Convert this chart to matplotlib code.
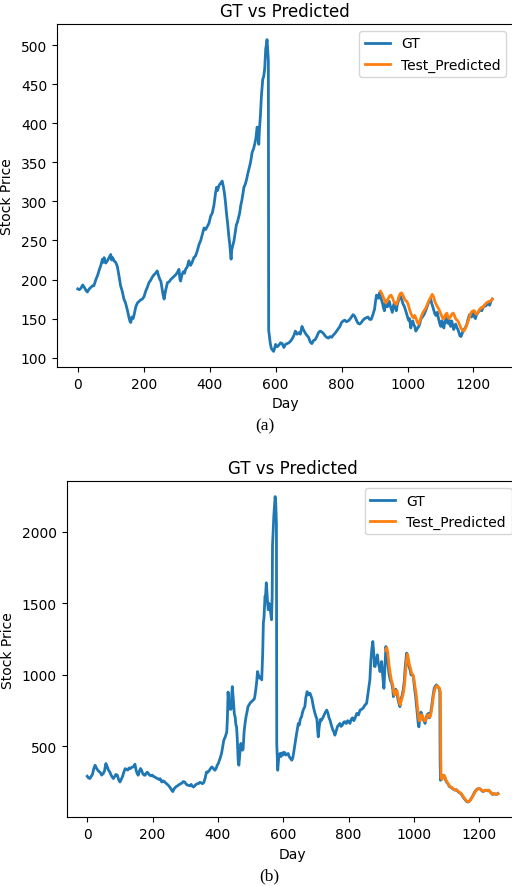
import matplotlib
matplotlib.use("Agg")
import matplotlib.pyplot as plt

# ---------------- Panel (a) ----------------
days_a = [0, 5, 10, 15, 20, 25, 29, 35, 40, 45, 49, 55, 60, 65, 70, 75, 78, 80, 85, 90,
          95, 100, 103, 106, 110, 115, 120, 125, 130, 135, 140, 145, 151, 155, 158, 161, 164, 168, 171, 176,
          181, 186, 191, 196, 201, 206, 211, 216, 221, 226, 231, 236, 241, 245, 249, 252, 256, 259, 262, 266,
          272, 277, 282, 287, 292, 297, 302, 307, 310, 312, 316, 320, 324, 327, 332, 337, 342, 347, 352, 357,
          362, 368, 373, 378, 383, 388, 393, 398, 403, 408, 413, 418, 421, 424, 428, 431, 435, 438, 442, 445,
          448, 451, 455, 458, 461, 463, 465, 467, 470, 474, 478, 481, 484, 488, 491, 494, 498, 501, 504, 508,
          512, 516, 519, 523, 526, 529, 533, 536, 540, 544, 546, 549, 551, 554, 557, 559, 561, 564, 567, 570,
          572, 574, 576, 578, 579, 581, 584, 587, 590, 594, 597, 600, 605, 610, 615, 620, 625, 630, 635, 640,
          645, 650, 655, 660, 665, 670, 675, 680, 684, 688, 692, 696, 700, 705, 710, 715, 720, 725, 730, 735,
          740, 745, 750, 755, 760, 765, 770, 775, 780, 785, 790, 795, 800, 805, 810, 815, 820, 825, 830, 835,
          840, 845, 850, 855, 860, 865, 870, 875, 880, 885, 890, 895, 900, 903, 906, 909, 912, 915, 918, 921,
          924, 927, 930, 933, 936, 939, 942, 945, 948, 951, 954, 957, 960, 963, 966, 969, 972, 975, 978, 981,
          984, 987, 990, 993, 996, 1000, 1003, 1006, 1010, 1013, 1016, 1019, 1022, 1025, 1028, 1031, 1034, 1037, 1040, 1045,
          1050, 1055, 1060, 1065, 1070, 1073, 1076, 1080, 1083, 1086, 1090, 1094, 1098, 1101, 1104, 1107, 1110, 1113, 1116, 1119,
          1122, 1125, 1128, 1131, 1134, 1137, 1140, 1143, 1146, 1150, 1153, 1156, 1159, 1162, 1165, 1168, 1171, 1175, 1180, 1184,
          1188, 1191, 1194, 1197, 1200, 1203, 1206, 1209, 1213, 1217, 1221, 1225, 1229, 1233, 1237, 1241, 1245, 1249, 1253, 1257]
gt_a = [188, 187, 189, 193, 190, 186, 184, 188, 190, 192, 192, 200, 205, 212, 218, 226, 222, 228, 221, 224,
        228, 232, 225, 228, 224, 222, 217, 205, 192, 185, 175, 170, 160, 152, 147, 145, 152, 150, 155, 165,
        170, 172, 174, 175, 178, 185, 190, 196, 199, 203, 206, 208, 211, 205, 200, 198, 188, 180, 175, 185,
        196, 197, 200, 202, 204, 206, 209, 213, 200, 198, 206, 210, 208, 213, 216, 224, 218, 222, 228, 230,
        236, 245, 250, 258, 266, 264, 268, 272, 281, 285, 295, 311, 318, 314, 320, 322, 324, 326, 318, 310,
        299, 285, 270, 256, 245, 236, 226, 238, 243, 250, 262, 270, 273, 280, 285, 294, 302, 310, 318, 322,
        328, 336, 341, 348, 355, 363, 367, 372, 380, 395, 390, 373, 392, 410, 435, 445, 456, 460, 470, 495,
        500, 507, 495, 480, 135, 128, 118, 112, 110, 108, 112, 117, 114, 116, 119, 118, 113, 117, 118, 119,
        121, 124, 128, 134, 130, 132, 130, 140, 136, 133, 130, 128, 126, 120, 118, 122, 123, 127, 132, 134,
        133, 131, 128, 126, 125, 127, 126, 129, 131, 134, 137, 140, 145, 147, 148, 146, 147, 149, 152, 155,
        153, 148, 144, 143, 145, 148, 150, 151, 152, 149, 149, 155, 162, 172, 180, 177, 176, 183, 178, 174,
        170, 164, 160, 170, 173, 165, 170, 172, 166, 162, 158, 166, 170, 164, 160, 168, 172, 178, 179, 176,
        172, 168, 166, 162, 158, 152, 148, 150, 138, 145, 147, 142, 140, 134, 136, 138, 140, 143, 149, 152,
        155, 160, 166, 172, 176, 170, 166, 160, 156, 154, 158, 150, 143, 140, 147, 143, 138, 145, 151, 146,
        144, 149, 143, 140, 147, 142, 136, 140, 143, 138, 136, 132, 128, 127, 130, 134, 136, 138, 143, 150,
        155, 154, 152, 155, 158, 152, 150, 155, 157, 160, 162, 160, 164, 167, 166, 168, 170, 167, 172, 175]

pred_days_a = [918, 922, 926, 930, 934, 938, 942, 946, 950, 954, 958, 962, 966, 970, 974, 978, 982, 986, 990, 994,
               998, 1002, 1006, 1010, 1014, 1018, 1022, 1026, 1030, 1034, 1038, 1042, 1046, 1050, 1055, 1060, 1065, 1070, 1075, 1079,
               1083, 1087, 1091, 1095, 1099, 1103, 1107, 1111, 1115, 1119, 1123, 1127, 1131, 1135, 1139, 1143, 1147, 1151, 1155, 1159,
               1163, 1167, 1171, 1175, 1179, 1183, 1187, 1191, 1195, 1199, 1203, 1207, 1211, 1215, 1219, 1223, 1227, 1231, 1235, 1239,
               1243, 1247, 1251, 1255, 1257]
pred_a = [185, 182, 178, 174, 170, 172, 176, 179, 180, 177, 172, 170, 168, 172, 178, 182, 183, 180, 176, 173,
          172, 168, 162, 157, 153, 151, 154, 150, 145, 143, 148, 153, 157, 160, 163, 168, 173, 177, 181, 178,
          172, 168, 165, 162, 158, 154, 150, 150, 155, 157, 152, 150, 153, 156, 157, 153, 149, 148, 145, 141,
          137, 135, 134, 137, 141, 146, 151, 156, 159, 160, 160, 156, 156, 159, 162, 164, 164, 166, 168, 170,
          171, 172, 172, 174, 175]

# ---------------- Panel (b) ----------------
days_b = [0, 4, 8, 12, 16, 20, 24, 28, 32, 36, 40, 44, 49, 53, 57, 61, 65, 69, 73, 77,
          80, 84, 88, 92, 96, 100, 104, 108, 112, 116, 120, 124, 128, 132, 136, 141, 146, 150, 153, 156,
          160, 163, 166, 170, 174, 177, 181, 184, 187, 191, 195, 199, 203, 207, 211, 215, 219, 223, 228, 232,
          236, 240, 244, 248, 252, 256, 259, 262, 266, 270, 274, 278, 282, 286, 290, 294, 298, 302, 306, 310,
          314, 318, 322, 325, 329, 333, 337, 341, 345, 349, 353, 357, 361, 365, 369, 373, 377, 381, 385, 388,
          391, 395, 398, 401, 404, 407, 411, 414, 418, 422, 425, 427, 429, 431, 433, 435, 437, 440, 442, 444,
          446, 448, 450, 453, 455, 457, 459, 461, 462, 464, 466, 468, 470, 473, 475, 477, 480, 483, 486, 489,
          492, 495, 498, 501, 503, 506, 508, 511, 513, 516, 519, 521, 524, 527, 531, 534, 537, 539, 541, 544,
          546, 548, 550, 552, 554, 556, 559, 562, 564, 566, 567, 569, 571, 573, 575, 577, 579, 580, 582, 583,
          586, 588, 590, 593, 596, 599, 602, 605, 608, 611, 615, 618, 621, 624, 626, 629, 632, 636, 640, 643,
          646, 649, 652, 656, 659, 662, 666, 669, 673, 676, 679, 682, 685, 688, 692, 696, 700, 703, 705, 707,
          710, 714, 717, 721, 725, 729, 733, 737, 740, 743, 747, 751, 755, 758, 762, 766, 770, 773, 777, 781,
          785, 789, 793, 797, 801, 804, 808, 812, 816, 820, 825, 830, 835, 840, 845, 850, 855, 858, 862, 865,
          868, 871, 874, 877, 879, 881, 884, 888, 891, 894, 896, 899, 901, 904, 906, 908, 911, 914, 917, 921,
          924, 928, 932, 935, 937, 940, 944, 947, 950, 954, 957, 960, 964, 967, 970, 973, 976, 978, 981, 984,
          988, 991, 995, 998, 1001, 1005, 1008, 1011, 1013, 1015, 1018, 1021, 1023, 1026, 1030, 1034, 1037, 1040, 1044, 1047,
          1050, 1054, 1058, 1062, 1065, 1069, 1073, 1077, 1079, 1080, 1081, 1084, 1087, 1090, 1093, 1096, 1100, 1104, 1107, 1110,
          1114, 1118, 1122, 1126, 1130, 1133, 1136, 1140, 1144, 1148, 1152, 1156, 1160, 1164, 1168, 1172, 1176, 1180, 1184, 1188,
          1192, 1196, 1200, 1204, 1208, 1212, 1216, 1220, 1224, 1228, 1232, 1236, 1240, 1244, 1248, 1252, 1257]
gt_b = [292, 280, 276, 290, 305, 345, 369, 350, 335, 325, 318, 300, 311, 330, 381, 360, 335, 322, 300, 285,
        276, 290, 305, 300, 270, 252, 270, 290, 320, 345, 340, 335, 350, 345, 355, 357, 376, 330, 310, 299,
        330, 346, 335, 310, 300, 299, 315, 320, 311, 300, 295, 300, 290, 287, 280, 276, 270, 275, 252, 260,
        255, 245, 238, 229, 218, 205, 192, 185, 205, 215, 222, 228, 235, 240, 245, 255, 252, 240, 230, 229,
        225, 235, 222, 217, 225, 235, 240, 241, 250, 245, 240, 250, 280, 322, 320, 330, 345, 357, 350, 340,
        334, 350, 370, 381, 400, 420, 451, 490, 544, 565, 585, 600, 700, 880, 820, 760, 801, 760, 850, 918,
        860, 800, 731, 700, 650, 637, 560, 450, 400, 369, 420, 480, 521, 500, 474, 480, 600, 661, 708, 740,
        778, 790, 801, 810, 813, 820, 825, 830, 850, 900, 960, 1023, 1000, 977, 985, 965, 1150, 1362, 1400, 1549,
        1560, 1643, 1580, 1500, 1455, 1500, 1479, 1420, 1385, 1550, 1899, 2000, 2109, 2180, 2245, 2200, 2050, 521, 400, 334,
        420, 445, 451, 430, 455, 440, 460, 455, 440, 445, 451, 430, 420, 410, 404, 420, 460, 521, 580, 620,
        661, 650, 690, 708, 740, 760, 778, 840, 883, 860, 870, 871, 850, 830, 778, 740, 708, 690, 620, 567,
        640, 690, 684, 700, 720, 740, 754, 730, 700, 684, 650, 620, 600, 579, 610, 640, 650, 661, 640, 650,
        670, 673, 660, 680, 670, 661, 690, 700, 680, 700, 731, 720, 754, 760, 770, 790, 801, 850, 920, 965,
        1100, 1180, 1233, 1150, 1060, 1058, 1100, 1140, 1080, 1050, 1023, 1060, 1093, 1000, 950, 906, 1050, 1198, 1150, 1058,
        1000, 960, 941, 900, 848, 870, 900, 883, 840, 800, 778, 830, 860, 895, 950, 1050, 1120, 1152, 1100, 1060,
        1035, 1000, 1000, 988, 920, 850, 778, 700, 660, 637, 700, 740, 731, 700, 680, 661, 700, 720, 731, 700,
        720, 778, 850, 906, 920, 930, 915, 906, 880, 400, 264, 280, 295, 299, 290, 270, 250, 240, 225, 217,
        215, 205, 200, 195, 198, 190, 182, 175, 170, 155, 140, 130, 118, 112, 115, 125, 140, 155, 175, 190,
        200, 205, 206, 200, 190, 185, 192, 194, 190, 195, 185, 175, 165, 170, 168, 165, 172]

pred_days_b = [914, 917, 920, 924, 928, 931, 935, 938, 941, 945, 948, 951, 955, 958, 961, 965, 968, 971, 974, 977,
               980, 983, 986, 990, 993, 997, 1000, 1003, 1007, 1010, 1013, 1016, 1019, 1022, 1025, 1028, 1032, 1036, 1039, 1042,
               1046, 1049, 1052, 1056, 1060, 1064, 1067, 1071, 1075, 1078, 1081, 1082, 1083, 1086, 1089, 1092, 1095, 1098, 1102, 1105,
               1109, 1112, 1116, 1120, 1124, 1128, 1132, 1135, 1139, 1143, 1146, 1150, 1154, 1158, 1162, 1166, 1170, 1174, 1178, 1182,
               1186, 1190, 1194, 1198, 1202, 1206, 1210, 1214, 1218, 1222, 1226, 1230, 1234, 1238, 1242, 1246, 1250, 1254, 1257]
pred_b = [1170, 1190, 1150, 1060, 1000, 960, 930, 880, 860, 890, 890, 850, 810, 790, 820, 850, 880, 930, 1020, 1100,
          1145, 1110, 1070, 1040, 1010, 1000, 970, 920, 860, 790, 720, 680, 680, 720, 720, 700, 680, 680, 700, 720,
          720, 705, 730, 790, 860, 900, 915, 925, 915, 905, 880, 420, 280, 270, 290, 300, 285, 265, 250, 238,
          225, 218, 212, 205, 198, 196, 194, 188, 180, 174, 168, 152, 140, 128, 118, 114, 118, 130, 145, 160,
          178, 192, 200, 205, 205, 198, 190, 188, 193, 194, 192, 193, 182, 172, 167, 170, 168, 166, 170]

TITLE = "GT vs Predicted"
XLABEL = "Day"
YLABEL = "Stock Price"
GT_LABEL = "GT"
PRED_LABEL = "Test_Predicted"

W, H = 512, 887
fig = plt.figure(figsize=(W / 100, H / 100), dpi=100)


def frac_axes(left, top, right, bottom):
    return fig.add_axes([left / W, 1 - bottom / H, (right - left) / W, (bottom - top) / H])


def draw_panel(ax, days, gt, pdays, pred, label_pad):
    ax.plot(days, gt, color="#1f77b4", lw=2.0, label=GT_LABEL)
    ax.plot(pdays, pred, color="#ff7f0e", lw=2.0, label=PRED_LABEL)
    ax.set_title(TITLE, fontsize=12)
    ax.set_xlabel(XLABEL, fontsize=10)
    ax.set_ylabel(YLABEL, fontsize=10, labelpad=label_pad)
    ax.tick_params(labelsize=10)
    ax.set_xticks([0, 200, 400, 600, 800, 1000, 1200])
    ax.legend(loc="upper right", fontsize=10, handlelength=1.8)


ax_a = frac_axes(57, 25, 513, 368)
draw_panel(ax_a, days_a, gt_a, pred_days_a, pred_a, 5)

ax_b = frac_axes(66.7, 482.3, 518.5, 818.3)
draw_panel(ax_b, days_b, gt_b, pred_days_b, pred_b, 5)
ax_b.set_yticks([500, 1000, 1500, 2000])

serif = ["Liberation Serif", "DejaVu Serif"]
fig.text(265 / W, 1 - 426 / H, "(a)", ha="center", va="center", family=serif, fontsize=12.5)
fig.text(269 / W, 1 - 876 / H, "(b)", ha="center", va="center", family=serif, fontsize=12.5)

fig.savefig("out.png", dpi=100)
